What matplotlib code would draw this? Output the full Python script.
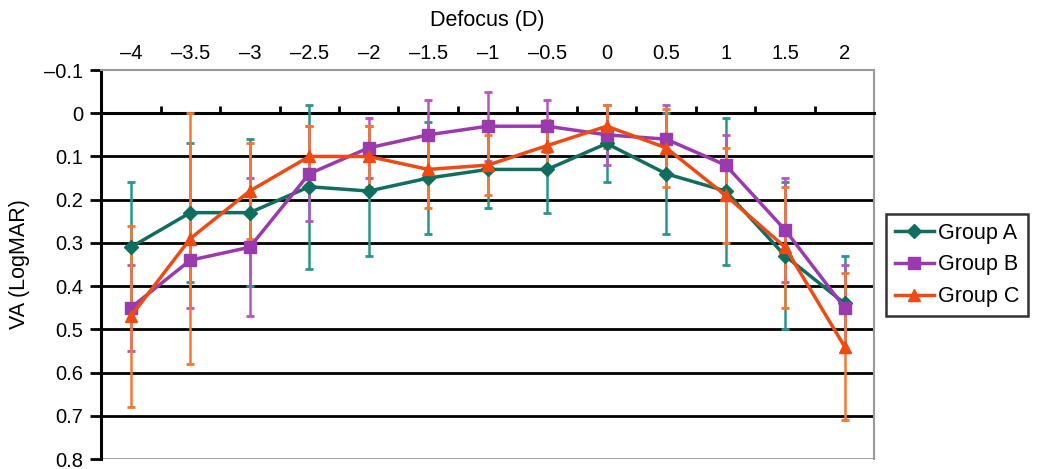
import numpy as np
import matplotlib
matplotlib.use("Agg")
from matplotlib import pyplot as plt
from matplotlib.ticker import FuncFormatter

plt.rcParams["font.family"] = ["Liberation Sans", "DejaVu Sans"]

defocus = ["–4", "–3.5", "–3", "–2.5", "–2", "–1.5", "–1", "–0.5", "0", "0.5", "1", "1.5", "2"]
groupA = [0.31, 0.23, 0.23, 0.17, 0.18, 0.15, 0.13, 0.13, 0.07, 0.14, 0.18, 0.33, 0.44]
errA = [0.15, 0.16, 0.17, 0.19, 0.15, 0.13, 0.09, 0.10, 0.09, 0.14, 0.17, 0.17, 0.11]
groupB = [0.45, 0.34, 0.31, 0.14, 0.08, 0.05, 0.03, 0.03, 0.05, 0.06, 0.12, 0.27, 0.45]
errB = [0.10, 0.11, 0.16, 0.11, 0.07, 0.08, 0.08, 0.06, 0.07, 0.08, 0.07, 0.12, 0.10]
groupC = [0.47, 0.29, 0.18, 0.10, 0.10, 0.13, 0.12, 0.075, 0.03, 0.08, 0.19, 0.31, 0.54]
errC = [0.21, 0.29, 0.11, 0.07, 0.07, 0.09, 0.07, 0.06, 0.05, 0.09, 0.11, 0.14, 0.17]

x = np.arange(len(defocus))

fig = plt.figure(figsize=(10.45, 4.69), dpi=100)
ax = fig.add_axes([0.0967, 0.0213, 0.74, 0.8294])

series = [
    ("Group A", groupA, errA, "#0f6e5e", "#2a958a", "D", 7),
    ("Group B", groupB, errB, "#9a3aae", "#b455c4", "s", 8),
    ("Group C", groupC, errC, "#ee4a14", "#f5782e", "^", 9),
]
for i, (name, vals, err, col, ecol, mk, ms) in enumerate(series):
    ax.errorbar(x, vals, yerr=err, fmt="none", ecolor=ecol, elinewidth=1.8,
                capsize=3, capthick=2, zorder=3 + i)
    ax.plot(x, vals, color=col, lw=2.5, marker=mk, markersize=ms,
            label=name, zorder=6 + i)

ax.set_xlim(-0.5, len(defocus) - 0.5)
ax.set_ylim(0.8, -0.1)
ax.set_yticks(np.arange(-0.1, 0.81, 0.1))
ax.yaxis.set_major_formatter(FuncFormatter(lambda v, p: ("%.1f" % v).replace("-", "–") if abs(v) > 1e-9 else "0"))

ax.set_xticks(x)
ax.set_xticklabels(defocus)
ax.set_xticks(np.arange(0.5, len(defocus) - 1, 1), minor=True)
ax.tick_params(axis="x", which="major", bottom=False, top=True, labeltop=True,
               labelbottom=False, length=0, labelsize=14.5, pad=5)
ax.tick_params(axis="x", which="minor", bottom=True, top=False, direction="in",
               length=5, width=2, color="black")
ax.tick_params(axis="y", which="major", length=8, width=2, labelsize=14.5, pad=5)

ax.spines["bottom"].set_position(("data", 0))
ax.spines["bottom"].set_linewidth(2.2)
ax.spines["left"].set_linewidth(2.2)
for s in ["top", "right"]:
    ax.spines[s].set_color("#999999")
    ax.spines[s].set_linewidth(1.5)

for yv in np.arange(0.1, 0.71, 0.1):
    ax.axhline(yv, color="black", lw=2, zorder=1)
ax.axhline(0.8, color="#999999", lw=2, zorder=1)

ax.set_xlabel("Defocus (D)", fontsize=15.5, labelpad=13)
ax.xaxis.set_label_position("top")
ax.set_ylabel("VA (LogMAR)", fontsize=15.5, labelpad=10)

leg = ax.legend(loc="upper left", bbox_to_anchor=(1.0155, 0.63), fontsize=15.5,
                frameon=True, fancybox=False, borderpad=0.4, borderaxespad=0,
                handlelength=1.8, handletextpad=0.2, labelspacing=0.5)
leg.get_frame().set_edgecolor("black")
leg.get_frame().set_linewidth(1.8)

fig.savefig("out.png", dpi=100)
